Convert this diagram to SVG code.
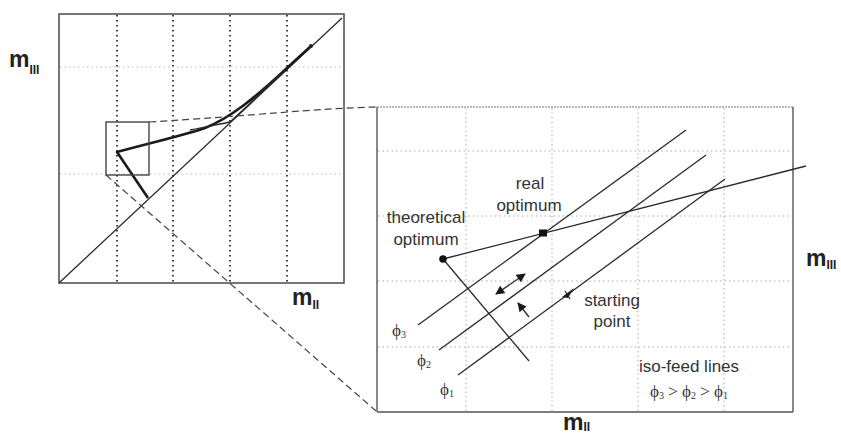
<svg xmlns="http://www.w3.org/2000/svg" width="841" height="436" viewBox="0 0 841 436">
<defs>
<style>
.ln{stroke:#2a2a2a;stroke-width:1.3;fill:none}
.thick{stroke:#1a1a1a;stroke-width:2.6;fill:none;stroke-linejoin:round}
.vgrid{stroke:#111;stroke-width:1.6;stroke-dasharray:1.5 3.5}
.hgrid{stroke:#bbb;stroke-width:1;stroke-dasharray:1.5 3}
.bgrid{stroke:#aaa;stroke-width:1;stroke-dasharray:1.5 3}
.dash{stroke:#444;stroke-width:1.2;stroke-dasharray:7 4;fill:none}
.lbl{font-family:"Liberation Sans",Arial,sans-serif;font-size:17px;fill:#333;text-anchor:middle}
.ax{font-family:"Liberation Sans",Arial,sans-serif;font-weight:bold;font-size:23px;fill:#222}
.sub{font-size:12px}
.phi{font-family:"Liberation Serif","DejaVu Serif",serif;font-size:17px;fill:#333}
.phis{font-size:10px}
</style>
<marker id="ah" viewBox="0 0 10 10" refX="9" refY="5" markerWidth="10" markerHeight="9" markerUnits="userSpaceOnUse" orient="auto-start-reverse">
<path d="M0,0 L10,5 L0,10 z" fill="#1a1a1a"/>
</marker>
</defs>
<rect width="841" height="436" fill="#fff"/>

<g id="left-plot">
<line class="vgrid" x1="117" y1="15" x2="117" y2="282"/>
<line class="vgrid" x1="173" y1="15" x2="173" y2="282"/>
<line class="vgrid" x1="230" y1="15" x2="230" y2="282"/>
<line class="vgrid" x1="287" y1="15" x2="287" y2="282"/>
<line class="hgrid" x1="60" y1="67" x2="344" y2="67"/>
<line class="hgrid" x1="60" y1="174" x2="344" y2="174"/>
<rect x="59" y="14" width="285" height="269" fill="none" stroke="#555" stroke-width="1.6"/>
<line class="ln" x1="59" y1="283" x2="342" y2="18" stroke-width="2"/>
<path class="thick" d="M148,198 L117,152 C150,143 185,135 205,128 C230,118 255,98 287,68 L311,46"/>
<path class="ln" stroke-width="1.8" d="M190,130 C208,126 222,124 230,122 C245,108 262,92 285,70"/>
<circle cx="311" cy="46" r="2" fill="#222"/>
<rect x="106" y="122" width="43" height="53" fill="none" stroke="#444" stroke-width="1.4"/>
</g>

<g id="connectors">
<path class="dash" d="M149,122 C250,116 320,108 378,107"/>
<line class="dash" x1="106" y1="175" x2="376" y2="411"/>
</g>

<g id="zoom-plot">
<line class="bgrid" x1="466" y1="108" x2="466" y2="411"/>
<line class="bgrid" x1="552" y1="108" x2="552" y2="411"/>
<line class="bgrid" x1="638" y1="108" x2="638" y2="411"/>
<line class="bgrid" x1="724" y1="108" x2="724" y2="411"/>
<line class="bgrid" x1="378" y1="151" x2="792" y2="151"/>
<line class="bgrid" x1="378" y1="216" x2="792" y2="216"/>
<line class="bgrid" x1="378" y1="281" x2="792" y2="281"/>
<line class="bgrid" x1="378" y1="347" x2="792" y2="347"/>
<line x1="377" y1="107" x2="793" y2="107" stroke="#777" stroke-width="1.2" stroke-dasharray="2 1"/>
<line x1="793" y1="107" x2="793" y2="412" stroke="#555" stroke-width="1.4"/>
<line x1="377" y1="412" x2="793" y2="412" stroke="#555" stroke-width="1.4"/>
<line x1="377" y1="107" x2="377" y2="412" stroke="#888" stroke-width="2"/>
</g>

<g id="iso-feed-lines">
<line class="ln" x1="418" y1="325" x2="686" y2="130"/>
<line class="ln" x1="439" y1="350" x2="706" y2="155"/>
<line class="ln" x1="458" y1="375" x2="725" y2="179"/>
</g>

<g id="optimum-line">
<line class="ln" x1="443" y1="259" x2="806" y2="166"/>
<line class="ln" x1="443" y1="259" x2="529" y2="361"/>
</g>

<g id="theoretical-optimum">
<circle cx="443" cy="259" r="3.8" fill="#111"/>
<text class="lbl" x="426" y="223">theoretical</text>
<text class="lbl" x="426" y="245">optimum</text>
</g>

<g id="real-optimum">
<rect x="539" y="229.5" width="8" height="7" fill="#111"/>
<text class="lbl" x="530" y="189">real</text>
<text class="lbl" x="529" y="211">optimum</text>
</g>

<g id="arrows">
<line class="ln" x1="496" y1="294" x2="525" y2="274" stroke-width="1.5" marker-start="url(#ah)" marker-end="url(#ah)"/>
<line class="ln" x1="529" y1="317" x2="518" y2="303" stroke-width="1.5" marker-end="url(#ah)"/>
</g>

<g id="starting-point">
<line class="ln" x1="565" y1="291" x2="570" y2="299" stroke-width="1.6"/>
<path d="M562,297 L574,288 L568,298 z" fill="#1a1a1a"/>
<text class="lbl" x="612" y="306">starting</text>
<text class="lbl" x="612" y="327">point</text>
</g>

<g id="phi-labels">
<text class="phi" x="392" y="336">ϕ<tspan class="phis" dy="2">3</tspan></text>
<text class="phi" x="417" y="366">ϕ<tspan class="phis" dy="2">2</tspan></text>
<text class="phi" x="440" y="395">ϕ<tspan class="phis" dy="2">1</tspan></text>
</g>

<g id="legend">
<text class="lbl" x="689" y="372">iso-feed lines</text>
<text class="phi" x="689" y="397" text-anchor="middle" font-size="14">ϕ<tspan class="phis" dy="2">3</tspan><tspan dy="-2"> &gt; ϕ</tspan><tspan class="phis" dy="2">2</tspan><tspan dy="-2"> &gt; ϕ</tspan><tspan class="phis" dy="2">1</tspan></text>
</g>

<g id="axis-labels">
<text class="ax" x="9" y="67">m<tspan class="sub" dy="7">III</tspan></text>
<text class="ax" x="292" y="305">m<tspan class="sub" dy="4">II</tspan></text>
<text class="ax" x="806" y="266">m<tspan class="sub" dy="3">III</tspan></text>
<text class="ax" x="563" y="430">m<tspan class="sub" dy="1">II</tspan></text>
</g>
</svg>
